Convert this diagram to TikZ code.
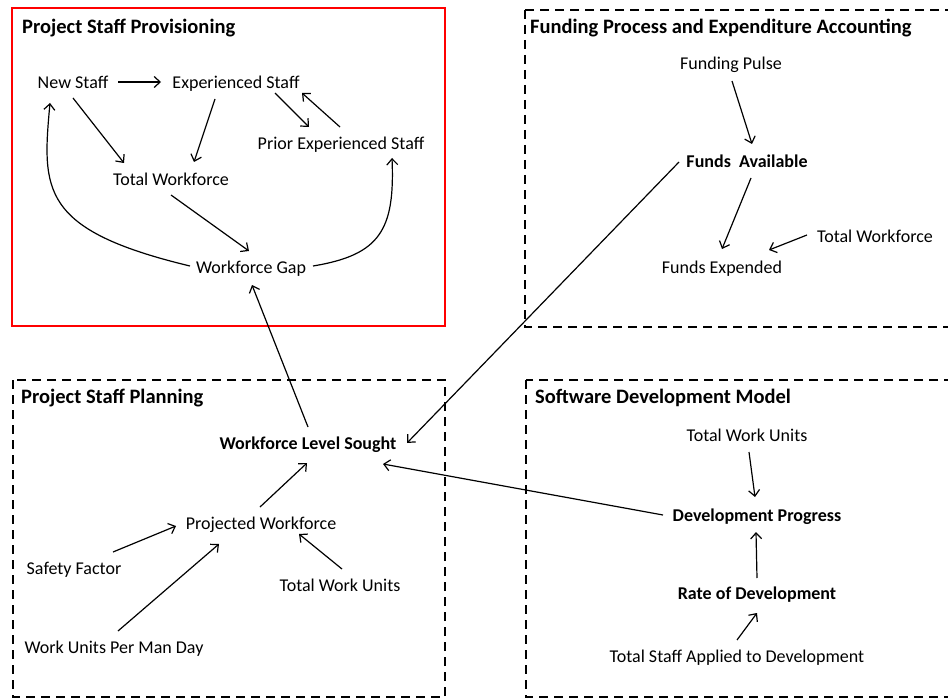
\documentclass[tikz,border=0pt]{standalone}
\usepackage{fontspec}
\setmainfont{Carlito}
\usetikzlibrary{arrows.meta,calc}
\begin{document}
\begin{tikzpicture}[x=1pt,y=-1pt,
  lbl/.style={inner sep=0pt,font=\fontsize{18}{21}\selectfont,text height=12.5pt,text depth=0pt},
  blbl/.style={lbl,font=\fontsize{18}{21}\selectfont\bfseries},
  ttl/.style={lbl,anchor=west,font=\fontsize{20.5}{24}\selectfont\bfseries,text height=14pt},
  arr/.style={line width=1.2pt,-{Straight Barb[length=6pt,width=11pt,line width=1.2pt]}},
  dbox/.style={draw,line width=2pt,dash pattern=on 9pt off 6pt},
  rbox/.style={draw=red,line width=2pt}]
\clip (0,0) rectangle (948,698);
\fill[white] (0,0) rectangle (948,698);

% group frames
\draw[rbox] (12,8) rectangle (445,326);
\draw[dbox] (525,10) rectangle (970,327);
\draw[dbox] (13,380) rectangle (445,697);
\draw[dbox] (526,380) rectangle (970,697);

% frame titles
\node[ttl] (t1) at (22,27) {Project Staff Provisioning};
\node[ttl] (t2) at (530,27) {Funding Process and Expenditure Accounting};
\node[ttl] (t3) at (21,396) {Project Staff Planning};
\node[ttl] (t4) at (535,396) {Software Development Model};

% staff provisioning
\node[lbl] (ns) at (73,82) {New Staff};
\node[lbl] (es) at (236,82) {Experienced Staff};
\node[lbl] (pes) at (341,143) {Prior Experienced Staff};
\node[lbl] (tw) at (171,179) {Total Workforce};
\node[lbl] (wg) at (251,267) {Workforce Gap};

% funding
\node[lbl] (fp) at (731,63) {Funding Pulse};
\node[blbl] (fa) at (747,161) {Funds\ \ Available};
\node[lbl] (fe) at (722,267) {Funds Expended};
\node[lbl] (tw2) at (875,236) {Total Workforce};

% staff planning
\node[blbl] (wls) at (308,443) {Workforce Level Sought};
\node[lbl] (pw) at (261,523) {Projected Workforce};
\node[lbl] (sf) at (74,568) {Safety Factor};
\node[lbl] (twu) at (340,585) {Total Work Units};
\node[lbl] (wu) at (114,647) {Work Units Per Man Day};

% software development
\node[lbl] (twu2) at (747,435) {Total Work Units};
\node[blbl] (dp) at (757,515) {Development Progress};
\node[blbl] (rd) at (757,593) {Rate of Development};
\node[lbl] (ts) at (737,656) {Total Staff Applied to Development};

% connectors
\draw[arr] ($(ns)+(45,0)$) -- ($(es)+(-75,0)$);
\draw[arr] ($(ns)+(0,16)$) -- ($(tw)+(-47,-16)$);
\draw[arr] ($(es)+(-21,17)$) -- ($(tw)+(23,-17)$);
\draw[arr] ($(es)+(39,11)$) -- ($(pes)+(-32,-16)$);
\draw[arr] ($(pes)+(-1,-16)$) -- ($(es)+(66,11)$);
\draw[arr] ($(tw)+(0,16)$) -- ($(wg)+(-2,-16)$);
\draw[arr] ($(wg)+(-61,-1)$) .. controls +(-150,-36) and +(-8,87) .. ($(ns)+(-23,21)$);
\draw[arr] ($(wg)+(62,-1)$) .. controls +(67,-11) and +(3,72) .. ($(pes)+(51,15)$);
\draw[arr] ($(wls)+(0,-16)$) -- ($(wg)+(1,18)$);

\draw[arr] ($(fp)+(1,18)$) -- ($(fa)+(5,-17)$);
\draw[arr] ($(fa)+(4,17)$) -- ($(fe)+(0,-18)$);
\draw[arr] ($(tw2)+(-68,-1)$) -- ($(fe)+(47,-17)$);
\draw[arr] ($(fa)+(-68,1)$) -- ($(wls)+(99,0)$);

\draw[arr] ($(pw)+(-1,-16)$) -- ($(wls)+(-1,20)$);
\draw[arr] ($(sf)+(39,-16)$) -- ($(pw)+(-85,3)$);
\draw[arr] ($(wu)+(4,-16)$) -- ($(pw)+(-42,21)$);
\draw[arr] ($(twu)+(2,-16)$) -- ($(pw)+(38,11)$);

\draw[arr] ($(twu2)+(2,17)$) -- ($(dp)+(-2,-18)$);
\draw[arr] ($(rd)+(0,-15)$) -- ($(dp)+(-1,17)$);
\draw[arr] ($(ts)+(0,-16)$) -- ($(rd)+(0,20)$);
\draw[arr] ($(dp)+(-94,0)$) -- ($(wls)+(75,21)$);
\end{tikzpicture}
\end{document}
